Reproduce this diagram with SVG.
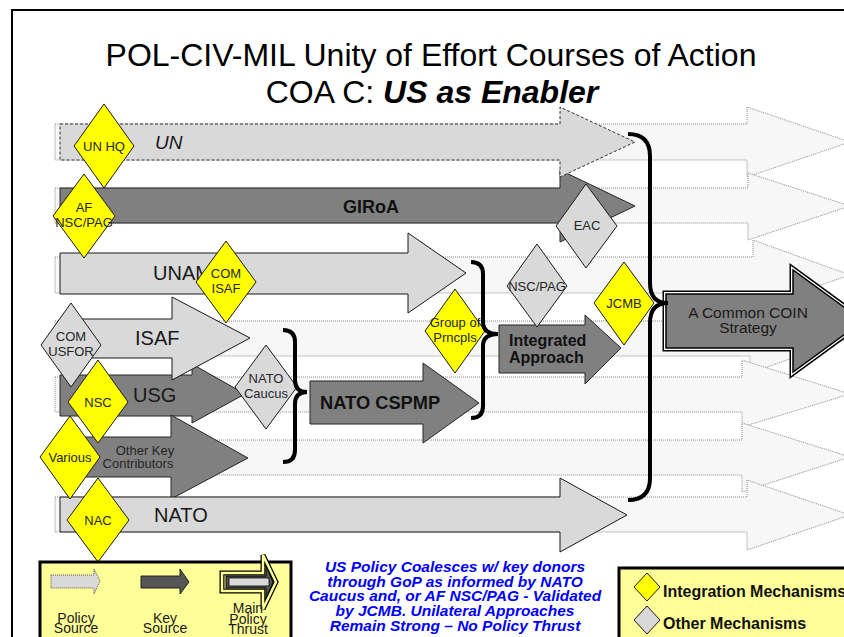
<svg xmlns="http://www.w3.org/2000/svg" width="844" height="637" viewBox="0 0 844 637">
<style>
text{font-family:"Liberation Sans",Arial,sans-serif;}
.faint{fill:#f7f7f7;stroke:#8c8c8c;stroke-width:1;stroke-dasharray:1 1;}
.lite{fill:#d9d9d9;stroke:#1a1a1a;stroke-width:1;}
.dark{fill:#808080;stroke:#262626;stroke-width:1;}
.ydia{fill:#ffff00;stroke:#1a1a1a;stroke-width:1;}
.gdia{fill:#d9d9d9;stroke:#1a1a1a;stroke-width:1;}
.dt{font-size:13px;fill:#262626;text-anchor:middle;}
.lbl{font-size:20px;fill:#1a1a1a;}
.brace{fill:none;stroke:#000;stroke-width:4;stroke-linecap:butt;}
.leg{fill:#ffff99;stroke:#000;stroke-width:3;}
.lt{font-size:14px;fill:#1a1a1a;text-anchor:middle;}
.note{font-size:15.5px;font-weight:bold;font-style:italic;fill:#0000ff;text-anchor:middle;}
</style>
<rect x="0" y="0" width="844" height="637" fill="#fff"/>
<rect x="12" y="10" width="860" height="660" fill="none" stroke="#000" stroke-width="2"/>
<g id="title">
<text x="431" y="66" font-size="32" text-anchor="middle" fill="#000">POL-CIV-MIL Unity of Effort Courses of Action</text>
<text x="432" y="103" font-size="32" text-anchor="middle" fill="#000">COA C: <tspan font-weight="bold" font-style="italic">US as Enabler</tspan></text>
</g>
<g id="background-arrows">
<polygon class="faint" points="55,124 747,124 747,107 850,142 747,177 747,160 55,160"/>
<polygon class="faint" points="55,188 748,188 748,173 850,206 748,240 748,223 55,223"/>
<polygon class="faint" points="55,257 753,257 753,240 850,275 753,308 753,293 55,293"/>
<polygon class="faint" points="55,321 750,321 750,304 850,338 750,373 750,356 55,356"/>
<polygon class="faint" points="55,377 742,377 742,360 850,394 742,427 742,412 55,412"/>
<polygon class="faint" points="55,440 742,440 742,423 850,457 742,492 742,475 55,475"/>
<polygon class="faint" points="55,497 747,497 747,480 850,515 747,550 747,532 55,532"/>
</g>
<g id="arrow-girOA">
<polygon class="dark" points="60,188 560,188 560,170 635,206 560,242 560,223 60,223"/>
<text x="371" y="213" font-size="18" font-weight="bold" text-anchor="middle" fill="#111">GIRoA</text>
</g>
<g id="arrow-un">
<polygon points="60,124 560,124 560,107 635,142 560,177 560,160 60,160" fill="#d9d9d9" stroke="#333" stroke-width="1" stroke-dasharray="3 2"/>
<text x="155" y="149" font-size="19" font-style="italic" fill="#1a1a1a">UN</text>
</g>
<g id="arrow-unama">
<polygon class="lite" points="60,253 408,253 408,233 466,273 408,313 408,294 60,294"/>
<text class="lbl" x="153" y="280">UNAMA</text>
</g>
<g id="arrow-usg">
<polygon class="dark" points="60,375 192,375 192,364 245,394 192,423 192,416 60,416"/>
<text class="lbl" x="133" y="402">USG</text>
</g>
<g id="arrow-isaf">
<polygon class="lite" points="62,319 172,319 172,297 250,338 172,380 172,358 62,358"/>
<text class="lbl" x="135" y="345">ISAF</text>
</g>
<g id="arrow-other-key">
<polygon class="dark" points="60,437 171,437 171,415 248,458 171,499 171,477 60,477"/>
<text x="145" y="455" font-size="13" text-anchor="middle" fill="#262626">Other Key</text>
<text x="138" y="468" font-size="13" text-anchor="middle" fill="#262626">Contributors</text>
</g>
<g id="arrow-nato">
<polygon class="lite" points="60,497 560,497 560,478 627,515 560,552 560,532 60,532"/>
<text class="lbl" x="154" y="522">NATO</text>
</g>
<g id="arrow-nato-cspmp">
<polygon class="dark" points="310,381 423,381 423,363 479,403 423,443 423,424 310,424"/>
<text x="320" y="409" font-size="18.3" font-weight="bold" fill="#111">NATO CSPMP</text>
</g>
<g id="arrow-integrated">
<polygon class="dark" points="499,325 585,325 585,315 621,348 585,384 585,373 499,373"/>
<text x="509" y="346" font-size="16" font-weight="bold" fill="#111">Integrated</text>
<text x="509" y="363" font-size="16" font-weight="bold" fill="#111">Approach</text>
</g>
<g id="arrow-coin">
<polygon points="666,294 793,294 793,270 863,321 793,372 793,348 666,348" fill="none" stroke="#000" stroke-width="7" stroke-linejoin="miter"/>
<polygon points="666,294 793,294 793,270 863,321 793,372 793,348 666,348" fill="none" stroke="#fff" stroke-width="4" stroke-linejoin="miter"/>
<polygon points="666,294 793,294 793,270 863,321 793,372 793,348 666,348" fill="#808080" stroke="#000" stroke-width="1.5" stroke-linejoin="miter"/>
<text x="748" y="318" font-size="15.5" text-anchor="middle" fill="#1a1a1a">A Common COIN</text>
<text x="748" y="333" font-size="15.5" text-anchor="middle" fill="#1a1a1a">Strategy</text>
</g>
<g id="d-unhq"><polygon class="ydia" points="104,104 134,146 104,188 74,146"/><text class="dt" x="104" y="150.5">UN HQ</text></g>
<g id="d-afnsc"><polygon class="ydia" points="84,174 115,216 84,258 53,216"/><text class="dt" x="84" y="212">AF</text><text class="dt" x="84" y="227">NSC/PAG</text></g>
<g id="d-comisaf"><polygon class="ydia" points="226,241 256,282 226,323 196,282"/><text class="dt" x="226" y="278">COM</text><text class="dt" x="226" y="293">ISAF</text></g>
<g id="d-comusfor"><polygon class="gdia" points="71,303 101,345 71,387 41,345"/><text class="dt" x="71" y="341">COM</text><text class="dt" x="71" y="356">USFOR</text></g>
<g id="d-nsc"><polygon class="ydia" points="98,360 128,402 98,443 68,402"/><text class="dt" x="98" y="406.5">NSC</text></g>
<g id="d-various"><polygon class="ydia" points="70,416 100,457 70,499 40,457"/><text class="dt" x="70" y="461.5">Various</text></g>
<g id="d-nac"><polygon class="ydia" points="98,478 129,520 98,562 67,520"/><text class="dt" x="98" y="524.5">NAC</text></g>
<g id="d-natocaucus"><polygon class="gdia" points="266,345 297,387 266,429 235,387"/><text class="dt" x="266" y="383">NATO</text><text class="dt" x="266" y="398">Caucus</text></g>
<g id="d-group"><polygon class="ydia" points="455,289 485,331 455,373 425,331"/><text class="dt" x="455" y="327">Group of</text><text class="dt" x="455" y="342">Prncpls</text></g>
<g id="d-nscpag"><polygon class="gdia" points="537,244 567,286 537,327 507,286"/><text class="dt" x="537" y="290.5">NSC/PAG</text></g>
<g id="d-eac"><polygon class="gdia" points="586,184 617,226 586,268 556,226"/><text class="dt" x="587" y="230">EAC</text></g>
<g id="d-jcmb"><polygon class="ydia" points="624,262 654,303 624,345 594,303"/><text class="dt" x="624" y="307.5">JCMB</text></g>
<g id="connectors">
<path class="brace" d="M283,330 Q295,330 295,342 L295,380 Q295,392 307,392 Q295,392 295,404 L295,450 Q295,462 283,462"/>
<path class="brace" d="M471,262 Q483,262 483,274 L483,322 Q483,334 498,334 Q483,334 483,346 L483,406 Q483,418 471,418"/>
<path class="brace" stroke-width="5" d="M628,134 Q650,134 650,156 L650,283 Q650,303 668,303 Q650,303 650,323 L650,478 Q650,500 628,500"/>
</g>
<g id="legend-left">
<rect class="leg" x="40" y="562" width="251" height="90"/>
<polygon points="51,575 94,575 94,569 100,581 94,594 94,588 51,588" fill="#d9d9d9" stroke="#555" stroke-width="1" stroke-dasharray="1 1"/>
<polygon points="141,576 180,576 180,569 189,582 180,594 180,588 141,588" fill="#555" stroke="#222" stroke-width="1"/>
<polygon points="222,573 263,573 263,555 276,582 263,609 263,591 222,591" fill="none" stroke="#000" stroke-width="5"/>
<polygon points="222,573 263,573 263,555 276,582 263,609 263,591 222,591" fill="none" stroke="#ffff99" stroke-width="2.5"/>
<polygon points="226,576 266,576 266,566 273,582 266,598 266,588 226,588" fill="#555" stroke="#000" stroke-width="1"/>
<rect x="229" y="578" width="40" height="8" fill="#d9d9d9" stroke="#000" stroke-width="0.8"/>
<text class="lt" x="76" y="623">Policy</text><text class="lt" x="76" y="633">Source</text>
<text class="lt" x="165" y="623">Key</text><text class="lt" x="165" y="633">Source</text>
<text class="lt" x="248" y="613">Main</text><text class="lt" x="248" y="624">Policy</text><text class="lt" x="248" y="634">Thrust</text>
</g>
<g id="note">
<text class="note" x="455" y="572">US Policy Coalesces w/ key donors</text>
<text class="note" x="455" y="587">through GoP as informed by NATO</text>
<text class="note" x="455" y="601">Caucus and, or AF NSC/PAG - Validated</text>
<text class="note" x="455" y="616">by JCMB.  Unilateral Approaches</text>
<text class="note" x="455" y="631">Remain Strong – No Policy Thrust</text>
</g>
<g id="legend-right">
<rect class="leg" x="619" y="568" width="240" height="90"/>
<polygon class="ydia" points="647,573 660,587 647,601 634,587"/>
<polygon class="gdia" points="647,606 660,620 647,634 634,620"/>
<text x="663" y="597" font-size="16" font-weight="bold" fill="#111">Integration Mechanisms</text>
<text x="663" y="629" font-size="16" font-weight="bold" fill="#111">Other Mechanisms</text>
</g>
</svg>
